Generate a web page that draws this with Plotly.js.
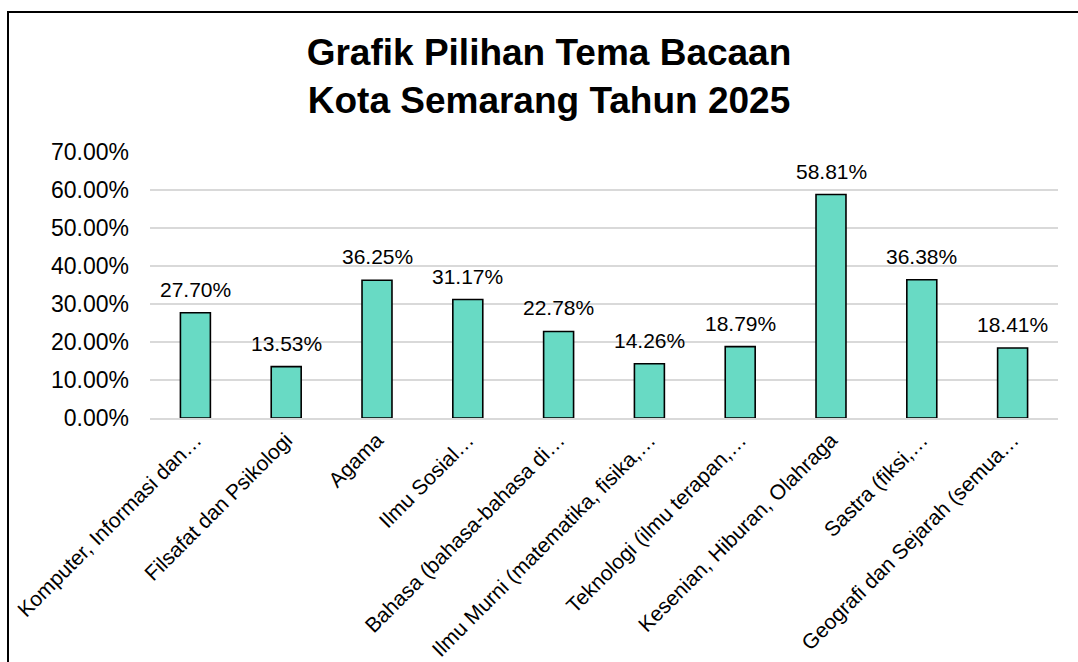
<!DOCTYPE html>
<html>
<head>
<meta charset="utf-8">
<script src="https://cdn.plot.ly/plotly-3.0.1.min.js"></script>
<style>
  html, body { margin: 0; padding: 0; overflow: hidden; background: #fff; }
  #chart { width: 1078px; height: 662px; position: absolute; left: 0; top: 0; }
  #frame { position: absolute; left: 7px; top: 11px; width: 1200px; height: 800px;
           border: 2px solid #000; pointer-events: none; box-sizing: border-box; }
</style>
</head>
<body>
<div id="chart"></div>
<div id="frame"></div>
<script>
// ---- data ----
const categories = [
  "Komputer, Informasi dan…",
  "Filsafat dan Psikologi",
  "Agama",
  "Ilmu Sosial…",
  "Bahasa (bahasa-bahasa di…",
  "Ilmu Murni (matematika, fisika,…",
  "Teknologi (ilmu terapan,…",
  "Kesenian, Hiburan, Olahraga",
  "Sastra (fiksi,…",
  "Geografi dan Sejarah (semua…"
];
const values = [0.2770, 0.1353, 0.3625, 0.3117, 0.2278, 0.1426, 0.1879, 0.5881, 0.3638, 0.1841];
const valueLabels = ["27.70%", "13.53%", "36.25%", "31.17%", "22.78%", "14.26%", "18.79%", "58.81%", "36.38%", "18.41%"];
const yTickValues = [0, 0.1, 0.2, 0.3, 0.4, 0.5, 0.6, 0.7];
const yTickLabels = ["0.00%", "10.00%", "20.00%", "30.00%", "40.00%", "50.00%", "60.00%", "70.00%"];
const chartTitle = "Grafik Pilihan Tema Bacaan<br>Kota Semarang Tahun 2025";

const FONT = "Liberation Sans, Arial, sans-serif";

const trace = {
  type: "bar",
  x: categories,
  y: values,
  marker: { color: "#68DAC4", line: { color: "#000000", width: 1.6 } },
  hoverinfo: "x+y"
};

const annotations = categories.map((c, i) => ({
  x: c, y: values[i], xref: "x", yref: "y",
  text: valueLabels[i], showarrow: false,
  yanchor: "bottom", xanchor: "center", yshift: 10,
  font: { family: FONT, size: 21, color: "#000" }
}));

const layout = {
  width: 1078, height: 662,
  margin: { l: 150, r: 20, t: 152, b: 244 },
  paper_bgcolor: "rgba(0,0,0,0)",
  plot_bgcolor: "#ffffff",
  showlegend: false,
  bargap: 0.67,
  title: {
    text: chartTitle,
    font: { family: FONT, size: 37, color: "#000", weight: "bold" },
    x: 549 / 1078, xref: "container", xanchor: "center",
    y: 1 - 65 / 662, yref: "container", yanchor: "top"
  },
  xaxis: {
    type: "category",
    tickangle: -45,
    tickfont: { family: FONT, size: 21, color: "#000" },
    showgrid: false,
    showline: true, linecolor: "#d9d9d9", linewidth: 1.6,
    ticks: "", zeroline: false
  },
  yaxis: {
    range: [0, 0.7],
    tickvals: yTickValues,
    ticktext: yTickLabels,
    tickfont: { family: FONT, size: 23, color: "#000" },
    showgrid: true, gridcolor: "#d9d9d9", gridwidth: 1.6,
    zeroline: false, showline: false, ticks: "",
    ticklabelstandoff: 20
  },
  annotations: annotations
};

Plotly.newPlot("chart", [trace], layout, { displayModeBar: false, staticPlot: true });
</script>
</body>
</html>
